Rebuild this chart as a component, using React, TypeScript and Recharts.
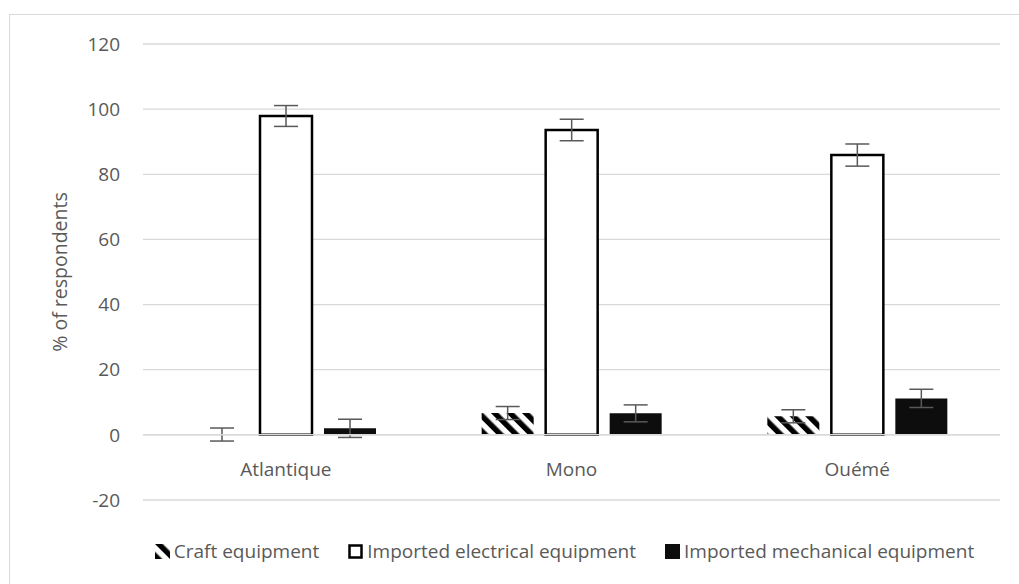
import React from 'react';
import { BarChart, Bar, XAxis, YAxis, CartesianGrid, ErrorBar, Legend, ReferenceLine } from 'recharts';

const regions = ['Atlantique', 'Mono', 'Ouémé'];
const craft = [0.1, 6.7, 5.7];
const craftErr = [2, 2, 2];
const electrical = [97.9, 93.6, 85.9];
const electricalErr = [3.2, 3.3, 3.4];
const mechanical = [2, 6.6, 11.2];
const mechanicalErr = [2.8, 2.6, 2.8];
const yTicks = [-20, 0, 20, 40, 60, 80, 100, 120];
const seriesNames = ['Craft equipment', 'Imported electrical equipment', 'Imported mechanical equipment'];

const data = regions.map((region, i) => ({
  region,
  craft: craft[i],
  craftErr: craftErr[i],
  electrical: electrical[i],
  electricalErr: electricalErr[i],
  mechanical: mechanical[i],
  mechanicalErr: mechanicalErr[i],
}));

const font = '"Open Sans", sans-serif';
const textColor = '#595959';
const gridColor = '#d9d9d9';

const CategoryTick = ({ x, y, payload }: any) => (
  <text x={x} y={y - 32} textAnchor="middle" fill={textColor} fontSize={19} fontFamily={font}>
    {payload.value}
  </text>
);

const YLabel = ({ viewBox }: any) => {
  const cx = viewBox.x + 59;
  const cy = viewBox.y + viewBox.height / 2;
  return (
    <text
      x={cx}
      y={cy}
      transform={`rotate(-90, ${cx}, ${cy})`}
      textAnchor="middle"
      dominantBaseline="central"
      fill={textColor}
      fontSize={19.5}
      fontFamily={font}
    >
      % of respondents
    </text>
  );
};

const LegendIcon = ({ kind }: { kind: string }) => {
  if (kind === 'craft') return <rect x={0} y={0} width={15} height={15} fill="url(#hatch)" />;
  if (kind === 'electrical') return <rect x={1.5} y={1.5} width={12} height={12} fill="#fff" stroke="#000" strokeWidth={2.5} />;
  return <rect x={0} y={0} width={15} height={15} fill="#0d0d0d" />;
};

const LegendContent = ({ payload }: any) => (
  <div
    style={{
      display: 'flex',
      justifyContent: 'center',
      alignItems: 'center',
      height: 26,
      gap: 29,
      fontFamily: font,
      fontSize: 19,
      color: textColor,
      whiteSpace: 'nowrap',
    }}
  >
    {(payload || []).map((entry: any) => (
      <span key={entry.dataKey} style={{ display: 'flex', alignItems: 'center' }}>
        <svg width={15} height={15} style={{ marginRight: 4 }}>
          <LegendIcon kind={entry.dataKey} />
        </svg>
        {entry.value}
      </span>
    ))}
  </div>
);

export default function App() {
  return (
    <div style={{ position: 'absolute', left: 0, top: 0, width: 1019, height: 584, overflow: 'hidden', background: '#fff' }}>
      <div style={{ position: 'absolute', left: 9, top: 14, right: -20, bottom: -20, border: `1px solid ${gridColor}` }} />
      <div style={{ position: 'absolute', left: 0, top: 0 }}>
        <BarChart
          width={1019}
          height={584}
          data={data}
          margin={{ top: 44, right: 19, left: 0, bottom: 20 }}
          barSize={52}
          barGap={12}
        >
          <defs>
            <pattern id="hatch" patternUnits="userSpaceOnUse" width={11} height={11} patternTransform="rotate(-45)">
              <rect x={0} y={0} width={5.5} height={11} fill="#000" />
            </pattern>
          </defs>
          <CartesianGrid vertical={false} stroke={gridColor} strokeWidth={1.3} />
          <XAxis dataKey="region" height={38} axisLine={false} tickLine={false} tick={<CategoryTick />} />
          <YAxis
            width={143}
            domain={[-20, 120]}
            ticks={yTicks}
            axisLine={false}
            tickLine={false}
            tickMargin={17}
            tick={{ fill: textColor, fontSize: 19, fontFamily: font }}
            label={(props: any) => <YLabel {...props} />}
          />
          <Legend
            verticalAlign="bottom"
            content={<LegendContent />}
            wrapperStyle={{ left: 136, width: 857 }}
          />
          <Bar dataKey="craft" name={seriesNames[0]} fill="url(#hatch)" isAnimationActive={false}>
            <ErrorBar dataKey="craftErr" width={12} stroke={textColor} strokeWidth={1.5} />
          </Bar>
          <Bar dataKey="electrical" name={seriesNames[1]} fill="#fff" stroke="#000" strokeWidth={2.5} isAnimationActive={false}>
            <ErrorBar dataKey="electricalErr" width={12} stroke={textColor} strokeWidth={1.5} />
          </Bar>
          <Bar dataKey="mechanical" name={seriesNames[2]} fill="#0d0d0d" isAnimationActive={false}>
            <ErrorBar dataKey="mechanicalErr" width={12} stroke={textColor} strokeWidth={1.5} />
          </Bar>
          <ReferenceLine y={0} stroke={gridColor} strokeWidth={1.5} />
        </BarChart>
      </div>
    </div>
  );
}
